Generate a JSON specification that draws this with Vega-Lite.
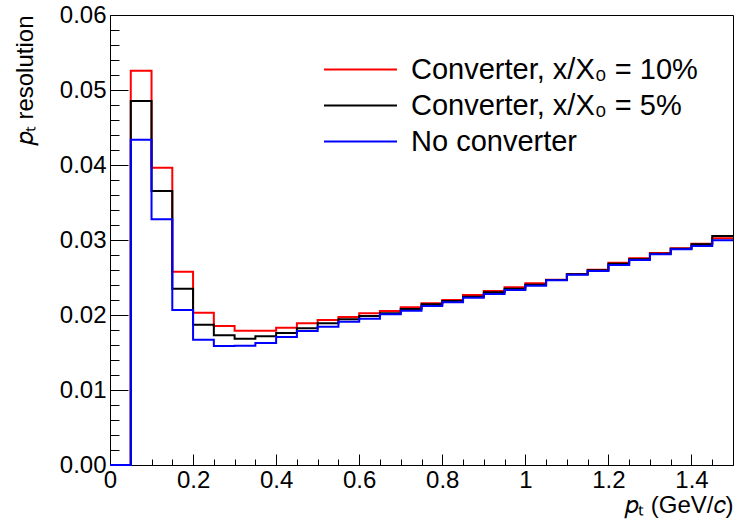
{
  "$schema": "https://vega.github.io/schema/vega-lite/v6.json",
  "width": 623,
  "height": 450,
  "autosize": "none",
  "padding": {"left": 110, "top": 15, "right": 4, "bottom": 61},
  "background": "white",
  "config": {
    "view": {"stroke": "#000000", "strokeWidth": 1},
    "font": "Liberation Sans"
  },
  "data": {
    "values": [
      {"pt": 0.00, "s": "Converter, x/X₀ = 10%", "r": 0},
      {"pt": 0.05, "s": "Converter, x/X₀ = 10%", "r": 0.05257},
      {"pt": 0.10, "s": "Converter, x/X₀ = 10%", "r": 0.03964},
      {"pt": 0.15, "s": "Converter, x/X₀ = 10%", "r": 0.02577},
      {"pt": 0.20, "s": "Converter, x/X₀ = 10%", "r": 0.02031},
      {"pt": 0.25, "s": "Converter, x/X₀ = 10%", "r": 0.01853},
      {"pt": 0.30, "s": "Converter, x/X₀ = 10%", "r": 0.01791},
      {"pt": 0.35, "s": "Converter, x/X₀ = 10%", "r": 0.01791},
      {"pt": 0.40, "s": "Converter, x/X₀ = 10%", "r": 0.01831},
      {"pt": 0.45, "s": "Converter, x/X₀ = 10%", "r": 0.01889},
      {"pt": 0.50, "s": "Converter, x/X₀ = 10%", "r": 0.01933},
      {"pt": 0.55, "s": "Converter, x/X₀ = 10%", "r": 0.01973},
      {"pt": 0.60, "s": "Converter, x/X₀ = 10%", "r": 0.02023},
      {"pt": 0.65, "s": "Converter, x/X₀ = 10%", "r": 0.02053},
      {"pt": 0.70, "s": "Converter, x/X₀ = 10%", "r": 0.02103},
      {"pt": 0.75, "s": "Converter, x/X₀ = 10%", "r": 0.02156},
      {"pt": 0.80, "s": "Converter, x/X₀ = 10%", "r": 0.02200},
      {"pt": 0.85, "s": "Converter, x/X₀ = 10%", "r": 0.02267},
      {"pt": 0.90, "s": "Converter, x/X₀ = 10%", "r": 0.02320},
      {"pt": 0.95, "s": "Converter, x/X₀ = 10%", "r": 0.02369},
      {"pt": 1.00, "s": "Converter, x/X₀ = 10%", "r": 0.02423},
      {"pt": 1.05, "s": "Converter, x/X₀ = 10%", "r": 0.02471},
      {"pt": 1.10, "s": "Converter, x/X₀ = 10%", "r": 0.02547},
      {"pt": 1.15, "s": "Converter, x/X₀ = 10%", "r": 0.02604},
      {"pt": 1.20, "s": "Converter, x/X₀ = 10%", "r": 0.02697},
      {"pt": 1.25, "s": "Converter, x/X₀ = 10%", "r": 0.02756},
      {"pt": 1.30, "s": "Converter, x/X₀ = 10%", "r": 0.02827},
      {"pt": 1.35, "s": "Converter, x/X₀ = 10%", "r": 0.02889},
      {"pt": 1.40, "s": "Converter, x/X₀ = 10%", "r": 0.02951},
      {"pt": 1.45, "s": "Converter, x/X₀ = 10%", "r": 0.03023},
      {"pt": 1.50, "s": "Converter, x/X₀ = 10%", "r": 0.03023},

      {"pt": 0.00, "s": "Converter, x/X₀ = 5%", "r": 0},
      {"pt": 0.05, "s": "Converter, x/X₀ = 5%", "r": 0.04853},
      {"pt": 0.10, "s": "Converter, x/X₀ = 5%", "r": 0.03653},
      {"pt": 0.15, "s": "Converter, x/X₀ = 5%", "r": 0.02351},
      {"pt": 0.20, "s": "Converter, x/X₀ = 5%", "r": 0.01871},
      {"pt": 0.25, "s": "Converter, x/X₀ = 5%", "r": 0.01729},
      {"pt": 0.30, "s": "Converter, x/X₀ = 5%", "r": 0.01684},
      {"pt": 0.35, "s": "Converter, x/X₀ = 5%", "r": 0.01716},
      {"pt": 0.40, "s": "Converter, x/X₀ = 5%", "r": 0.01760},
      {"pt": 0.45, "s": "Converter, x/X₀ = 5%", "r": 0.01823},
      {"pt": 0.50, "s": "Converter, x/X₀ = 5%", "r": 0.01889},
      {"pt": 0.55, "s": "Converter, x/X₀ = 5%", "r": 0.01943},
      {"pt": 0.60, "s": "Converter, x/X₀ = 5%", "r": 0.01987},
      {"pt": 0.65, "s": "Converter, x/X₀ = 5%", "r": 0.02023},
      {"pt": 0.70, "s": "Converter, x/X₀ = 5%", "r": 0.02080},
      {"pt": 0.75, "s": "Converter, x/X₀ = 5%", "r": 0.02143},
      {"pt": 0.80, "s": "Converter, x/X₀ = 5%", "r": 0.02187},
      {"pt": 0.85, "s": "Converter, x/X₀ = 5%", "r": 0.02244},
      {"pt": 0.90, "s": "Converter, x/X₀ = 5%", "r": 0.02303},
      {"pt": 0.95, "s": "Converter, x/X₀ = 5%", "r": 0.02351},
      {"pt": 1.00, "s": "Converter, x/X₀ = 5%", "r": 0.02404},
      {"pt": 1.05, "s": "Converter, x/X₀ = 5%", "r": 0.02467},
      {"pt": 1.10, "s": "Converter, x/X₀ = 5%", "r": 0.02543},
      {"pt": 1.15, "s": "Converter, x/X₀ = 5%", "r": 0.02596},
      {"pt": 1.20, "s": "Converter, x/X₀ = 5%", "r": 0.02684},
      {"pt": 1.25, "s": "Converter, x/X₀ = 5%", "r": 0.02743},
      {"pt": 1.30, "s": "Converter, x/X₀ = 5%", "r": 0.02817},
      {"pt": 1.35, "s": "Converter, x/X₀ = 5%", "r": 0.02884},
      {"pt": 1.40, "s": "Converter, x/X₀ = 5%", "r": 0.02943},
      {"pt": 1.45, "s": "Converter, x/X₀ = 5%", "r": 0.03053},
      {"pt": 1.50, "s": "Converter, x/X₀ = 5%", "r": 0.03053},

      {"pt": 0.00, "s": "No converter", "r": 0},
      {"pt": 0.05, "s": "No converter", "r": 0.04337},
      {"pt": 0.10, "s": "No converter", "r": 0.03276},
      {"pt": 0.15, "s": "No converter", "r": 0.02067},
      {"pt": 0.20, "s": "No converter", "r": 0.01671},
      {"pt": 0.25, "s": "No converter", "r": 0.01587},
      {"pt": 0.30, "s": "No converter", "r": 0.01591},
      {"pt": 0.35, "s": "No converter", "r": 0.01627},
      {"pt": 0.40, "s": "No converter", "r": 0.01707},
      {"pt": 0.45, "s": "No converter", "r": 0.01787},
      {"pt": 0.50, "s": "No converter", "r": 0.01844},
      {"pt": 0.55, "s": "No converter", "r": 0.01911},
      {"pt": 0.60, "s": "No converter", "r": 0.01951},
      {"pt": 0.65, "s": "No converter", "r": 0.02009},
      {"pt": 0.70, "s": "No converter", "r": 0.02057},
      {"pt": 0.75, "s": "No converter", "r": 0.02120},
      {"pt": 0.80, "s": "No converter", "r": 0.02169},
      {"pt": 0.85, "s": "No converter", "r": 0.02231},
      {"pt": 0.90, "s": "No converter", "r": 0.02280},
      {"pt": 0.95, "s": "No converter", "r": 0.02333},
      {"pt": 1.00, "s": "No converter", "r": 0.02391},
      {"pt": 1.05, "s": "No converter", "r": 0.02463},
      {"pt": 1.10, "s": "No converter", "r": 0.02537},
      {"pt": 1.15, "s": "No converter", "r": 0.02587},
      {"pt": 1.20, "s": "No converter", "r": 0.02667},
      {"pt": 1.25, "s": "No converter", "r": 0.02733},
      {"pt": 1.30, "s": "No converter", "r": 0.02809},
      {"pt": 1.35, "s": "No converter", "r": 0.02876},
      {"pt": 1.40, "s": "No converter", "r": 0.02920},
      {"pt": 1.45, "s": "No converter", "r": 0.02996},
      {"pt": 1.50, "s": "No converter", "r": 0.02996}
    ]
  },
  "mark": {"type": "line", "interpolate": "step-after", "strokeWidth": 2, "clip": false},
  "encoding": {
    "x": {
      "field": "pt", "type": "quantitative",
      "scale": {"domain": [0, 1.5], "nice": false, "zero": false},
      "axis": {
        "values": [0,0.05,0.1,0.15,0.2,0.25,0.3,0.35,0.4,0.45,0.5,0.55,0.6,0.65,0.7,0.75,0.8,0.85,0.9,0.95,1,1.05,1.1,1.15,1.2,1.25,1.3,1.35,1.4,1.45,1.5],
        "labelExpr": "abs(datum.value*5 - round(datum.value*5)) < 1e-6 ? format(datum.value, '~g') : ''",
        "grid": false,
        "domainColor": "#000000",
        "tickColor": "#000000",
        "tickSize": {"condition": {"test": "abs(datum.value*5 - round(datum.value*5)) < 1e-6", "value": -11}, "value": -6},
        "labelFontSize": 24,
        "labelColor": "#000000",
        "labelPadding": 14,
        "labelFlush": false,
        "labelOverlap": false,
        "labelBound": false,
        "title": "𝑝ₜ (GeV/𝑐)",
        "titleFontSize": 24,
        "titleFontWeight": "normal",
        "titleColor": "#000000",
        "titleAnchor": "end",
        "titleAlign": "right",
        "titleBaseline": "alphabetic",
        "titleX": 623,
        "titleY": 47
      }
    },
    "y": {
      "field": "r", "type": "quantitative",
      "scale": {"domain": [0, 0.06], "nice": false, "zero": false},
      "axis": {
        "values": [0,0.002,0.004,0.006,0.008,0.01,0.012,0.014,0.016,0.018,0.02,0.022,0.024,0.026,0.028,0.03,0.032,0.034,0.036,0.038,0.04,0.042,0.044,0.046,0.048,0.05,0.052,0.054,0.056,0.058,0.06],
        "labelExpr": "abs(datum.value*100 - round(datum.value*100)) < 1e-6 ? format(datum.value, '.2f') : ''",
        "grid": false,
        "domainColor": "#000000",
        "tickColor": "#000000",
        "tickSize": {"condition": {"test": "abs(datum.value*100 - round(datum.value*100)) < 1e-6", "value": -18}, "value": -9},
        "labelFontSize": 24,
        "labelColor": "#000000",
        "labelPadding": 22,
        "labelFlush": false,
        "labelOverlap": false,
        "labelBound": false,
        "title": "𝑝ₜ resolution",
        "titleFontSize": 24,
        "titleFontWeight": "normal",
        "titleColor": "#000000",
        "titleAnchor": "end",
        "titleAlign": "right",
        "titleAngle": 270,
        "titleBaseline": "alphabetic",
        "titleX": -78,
        "titleY": 0
      }
    },
    "color": {
      "field": "s", "type": "nominal",
      "scale": {
        "domain": ["Converter, x/X₀ = 10%", "Converter, x/X₀ = 5%", "No converter"],
        "range": ["#ff0000", "#000000", "#0000ff"]
      },
      "legend": {
        "title": null,
        "orient": "none",
        "legendX": 236,
        "legendY": 40,
        "symbolType": "M-3,0H3",
        "symbolSize": 592,
        "symbolStrokeWidth": 2,
        "labelFontSize": 29,
        "labelColor": "#000000",
        "labelOffset": 36,
        "rowPadding": 6,
        "labelLimit": 400
      }
    }
  }
}
